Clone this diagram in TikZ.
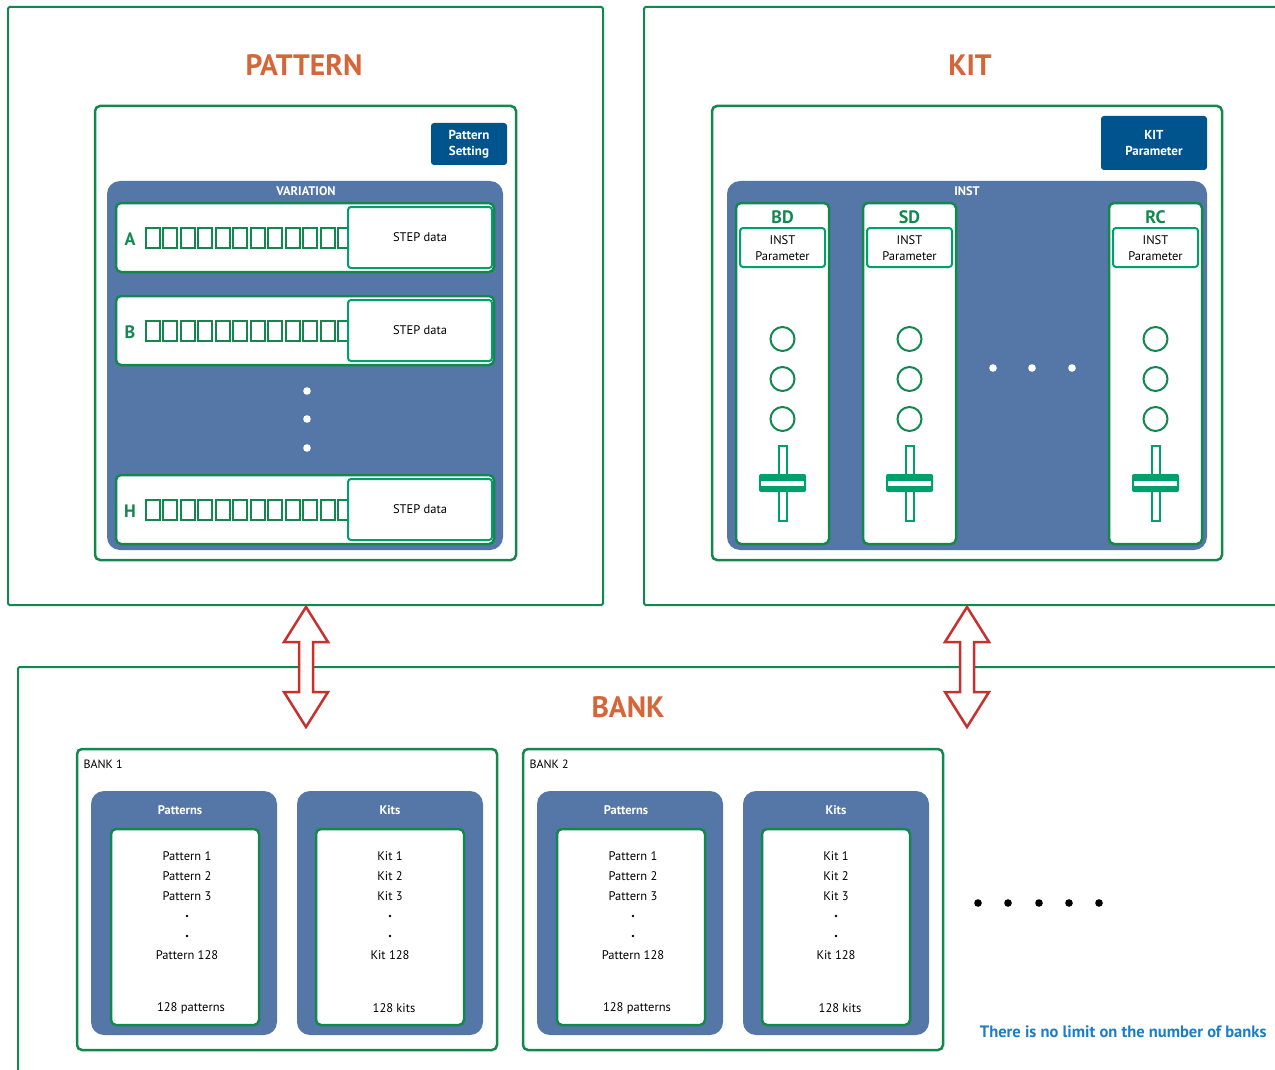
\documentclass[tikz,border=0pt]{standalone}
\usepackage{fontspec}
\setmainfont{PT Sans}
\definecolor{grn}{HTML}{13884E}
\definecolor{lgrn}{HTML}{00A06C}
\definecolor{pblue}{HTML}{5577A8}
\definecolor{dblue}{HTML}{00548E}
\definecolor{orng}{HTML}{D4663A}
\definecolor{ared}{HTML}{C8302E}
\definecolor{tblue}{HTML}{1B7DC4}
\newcommand\bxn[7]{\node[#2,anchor=north west,minimum width={(#5)-(#3)},minimum height={(#6)-(#4)}] (#1) at (#3,#4) {#7};}
\tikzset{
 base/.style={inner sep=0pt,outer sep=0pt},
 outerbox/.style={base,draw=grn,line width=2pt,rounded corners=1.5pt},
 gbox/.style={base,draw=grn,line width=2.5pt,fill=white,rounded corners=5pt},
 panel/.style={base,fill=pblue,rounded corners=13pt},
 dbox/.style={base,fill=dblue,rounded corners=3pt,text=white,align=center,font=\fontsize{13}{16}\selectfont\bfseries},
 stepbox/.style={base,draw=lgrn,line width=2pt,fill=white,rounded corners=3pt,font=\fontsize{12.5}{15}\selectfont},
 sq/.style={base,draw=grn,line width=2pt,minimum width=14,minimum height=20},
 title/.style={text=orng,font=\fontsize{29.5}{32}\selectfont\bfseries},
 wlab/.style={text=white,font=\fontsize{12.5}{15}\selectfont\bfseries},
 glab/.style={text=grn,font=\fontsize{18}{20}\selectfont\bfseries},
 txt/.style={font=\fontsize{12.5}{16}\selectfont},
 arr/.style={draw=ared,line width=2.5pt,fill=white,line join=miter},
}
\begin{document}
\begin{tikzpicture}[x=1pt,y=-1pt]
\useasboundingbox (0,0) rectangle (1275,1070);
\clip (0,0) rectangle (1275,1070);
% outer boxes
\bxn{patbox}{outerbox}{8}{7}{603}{605}{}
\bxn{kitbox}{outerbox}{644}{7}{1295}{605}{}
\bxn{bankbox}{outerbox}{18}{667}{1295}{1095}{}
\node[title] (pattitle) at (304,65) {PATTERN};
\node[title] (kittitle) at (970,65) {KIT};
\node[title] (banktitle) at (628,707) {BANK};
% arrows
\foreach \ax/\nm in {306/a1,967/a2}{
 \draw[arr] (\ax,607) -- (\ax+22,642) -- (\ax+7,642) -- (\ax+7,692) -- (\ax+22,692) -- (\ax,727) -- (\ax-22,692) -- (\ax-7,692) -- (\ax-7,642) -- (\ax-22,642) -- cycle;
}
% PATTERN inner
\bxn{patinner}{gbox}{95}{106}{516}{560}{}
\bxn{patset}{dbox}{431}{123}{507}{165}{Pattern\\Setting}
\bxn{varpanel}{panel}{107}{181}{503}{550}{}
\node[wlab] (varlab) at (306,191) {VARIATION};
\foreach \L/\y in {A/203,B/296,H/475}{
 \bxn{row\L}{gbox}{116}{\y}{494}{\y+69}{}
 \node[glab,font=\fontsize{18}{20}\selectfont\bfseries] (let\L) at (130,\y+36) {\L};
 \foreach \i in {0,...,11}{
  \node[sq] (sq\L\i) at ({152.5+\i*17.5},{\y+34.5}) {};
 }
 \bxn{step\L}{stepbox}{348}{\y+4}{492}{\y+65}{STEP data}
}
\foreach \yy/\n in {391/1,419/2,448/3}{
 \fill[white] (307,\yy) circle (3.8);
}
% KIT inner
\bxn{kitinner}{gbox}{712}{106}{1222}{560}{}
\bxn{kitpar}{dbox}{1101}{116}{1207}{170}{KIT\\Parameter}
\bxn{instpanel}{panel}{727}{181}{1207}{550}{}
\node[wlab] (instlab) at (967,191) {INST};
\foreach \x/\nm in {736/BD,863/SD,1109/RC}{
 \bxn{col\nm}{gbox}{\x}{203}{\x+93}{544}{}
 \node[glab] (t\nm) at (\x+46.5,217) {\nm};
 \bxn{ip\nm}{stepbox}{\x+4}{228}{\x+89}{267}{}
 \node[txt,align=center,font=\fontsize{12.5}{16}\selectfont] (ipt\nm) at (\x+46.5,248) {INST\\Parameter};
 \foreach \cy in {339,379,419}{
  \draw[grn,line width=2pt] (\x+46.5,\cy) circle (12);
 }
 \draw[lgrn,line width=2pt,fill=white] (\x+42.5,446) rectangle (\x+50.5,521);
 \fill[lgrn,rounded corners=2pt] (\x+23,474) rectangle (\x+70,492);
 \fill[white] (\x+25,481) rectangle (\x+68,485.5);
}
\foreach \dx in {993,1032,1072}{
 \fill[white] (\dx,368) circle (3.8);
}
% BANKS
\foreach \o/\n in {0/1,446/2}{
 \bxn{bank\n}{gbox}{77+\o}{749}{497+\o}{1050}{}
 \node[txt,anchor=west,font=\fontsize{12}{14}\selectfont] (banklab\n) at (80+\o,764) {BANK \n};
 \bxn{pp\n}{panel}{91+\o}{791}{277+\o}{1035}{}
 \node[wlab] (ppl\n) at (180+\o,810) {Patterns};
 \bxn{pi\n}{gbox}{111+\o}{829}{259+\o}{1025}{}
 \node[txt] (p1\n) at (187+\o,856) {Pattern 1};
 \node[txt] (p2\n) at (187+\o,876) {Pattern 2};
 \node[txt] (p3\n) at (187+\o,896) {Pattern 3};
 \fill (187+\o,916) circle (1.4);
 \fill (187+\o,936) circle (1.4);
 \node[txt] (p128\n) at (187+\o,955) {Pattern 128};
 \node[txt] (pn\n) at (191+\o,1008) {128 patterns};
 \bxn{kp\n}{panel}{297+\o}{791}{483+\o}{1035}{}
 \node[wlab] (kpl\n) at (390+\o,810) {Kits};
 \bxn{ki\n}{gbox}{316+\o}{829}{464+\o}{1025}{}
 \node[txt] (k1\n) at (390+\o,856) {Kit 1};
 \node[txt] (k2\n) at (390+\o,876) {Kit 2};
 \node[txt] (k3\n) at (390+\o,896) {Kit 3};
 \fill (390+\o,916) circle (1.4);
 \fill (390+\o,936) circle (1.4);
 \node[txt] (k128\n) at (390+\o,955) {Kit 128};
 \node[txt] (kn\n) at (394+\o,1008) {128 kits};
}
\foreach \dx in {978,1008,1039,1069,1099}{
 \fill[black] (\dx,903) circle (3.8);
}
\node[anchor=east,text=tblue,font=\fontsize{16.5}{18}\selectfont\bfseries] (nolimit) at (1270,1032) {There is no limit on the number of banks};
\end{tikzpicture}
\end{document}
